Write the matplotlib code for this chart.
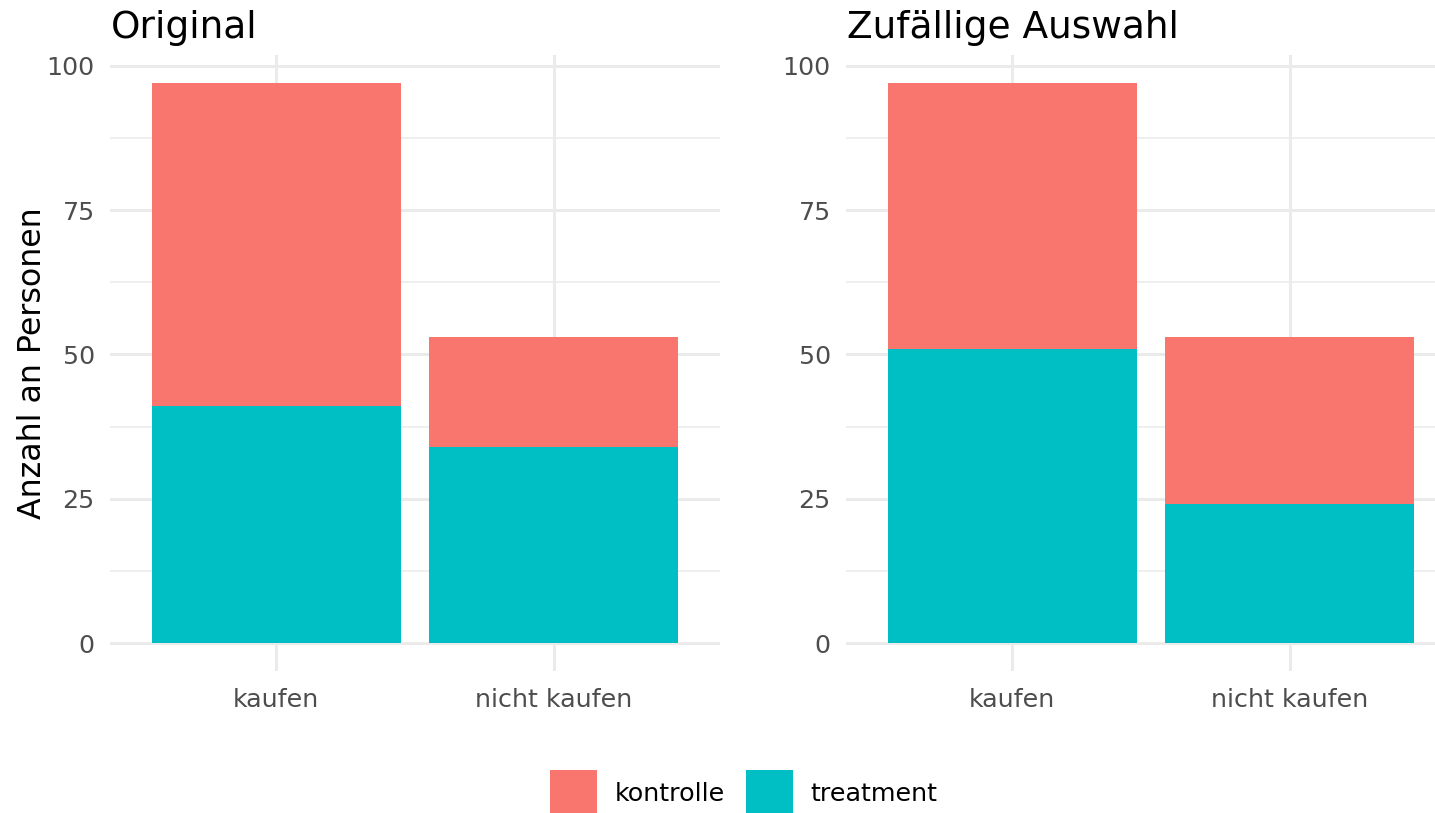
import matplotlib
matplotlib.use("Agg")
import matplotlib.pyplot as plt
from matplotlib.patches import Rectangle
import numpy as np

plt.rcParams['font.family'] = ['DejaVu Sans']

categories = ["kaufen", "nicht kaufen"]
panel_titles = ["Original", "Zufällige Auswahl"]
groups = ["kontrolle", "treatment"]
colors = {"kontrolle": "#F8766D", "treatment": "#00BFC4"}

# per panel: treatment / kontrolle counts per category
original_treatment = [41, 34]
original_kontrolle = [56, 19]
random_treatment = [51, 24]
random_kontrolle = [46, 29]

y_ticks = [0, 25, 50, 75, 100]
y_label = "Anzahl an Personen"

W, H = 1435, 813
fig = plt.figure(figsize=(W / 100, H / 100), dpi=100)

def fx(px):
    return px / W

def fy(py):
    return (H - py) / H

panels = [
    (panel_titles[0], original_treatment, original_kontrolle, 110),
    (panel_titles[1], random_treatment, random_kontrolle, 846),
]

panel_w = 610
top_px, bot_px = 55, 671

for title, treat, kontr, left_px in panels:
    ax = fig.add_axes([fx(left_px), fy(bot_px), panel_w / W, (bot_px - top_px) / H])
    x = np.arange(1, len(categories) + 1)
    ax.bar(x, treat, width=0.9, color=colors["treatment"], zorder=3, linewidth=0)
    ax.bar(x, kontr, bottom=treat, width=0.9, color=colors["kontrolle"], zorder=3, linewidth=0)
    ax.set_xlim(0.4, 2.6)
    ax.set_ylim(-4.85, 101.85)
    ax.set_xticks(x)
    ax.set_xticklabels(categories)
    ax.set_yticks(y_ticks)
    ax.set_yticks([12.5, 37.5, 62.5, 87.5], minor=True)
    for s in ax.spines.values():
        s.set_visible(False)
    ax.tick_params(axis='both', which='both', length=0, colors="#4D4D4D", labelsize=18.3)
    ax.tick_params(axis='x', pad=12)
    ax.tick_params(axis='y', pad=11)
    ax.grid(True, which='major', color="#EBEBEB", linewidth=2.2, zorder=0)
    ax.grid(True, which='minor', axis='y', color="#EBEBEB", linewidth=1.1, zorder=0)
    ax.set_axisbelow(True)
    fig.text(fx(left_px + 1), fy(38), title, fontsize=27, color="black",
             ha="left", va="baseline")

fig.text(fx(33), fy(363.5), y_label, rotation=90, fontsize=22.8,
         color="black", ha="center", va="center")

# legend
legend_items = [("kontrolle", 550, 615), ("treatment", 746, 810)]
for name, sq_x, tx in legend_items:
    r = Rectangle((fx(sq_x), fy(817)), 47 / W, 47 / H, transform=fig.transFigure,
                  facecolor=colors[name], edgecolor="none")
    fig.patches.append(r)
    fig.text(fx(tx), fy(794), name, fontsize=18.3, color="black",
             ha="left", va="center")

fig.savefig("out.png", dpi=100)
